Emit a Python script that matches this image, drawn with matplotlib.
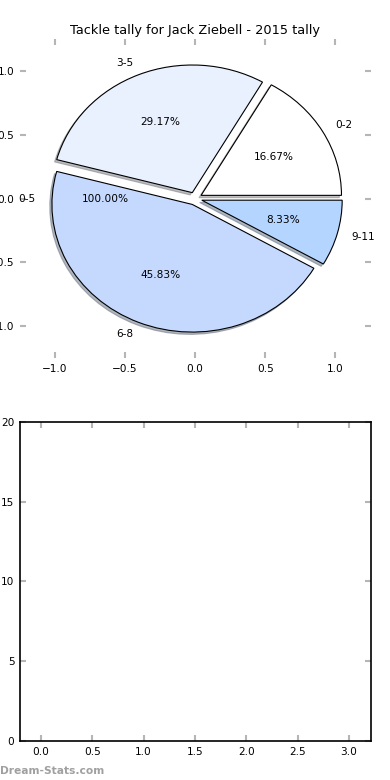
import matplotlib
matplotlib.use("Agg")
import matplotlib.pyplot as plt
import numpy as np

# tackle tally buckets and number of games in each
categories = ["0-2", "3-5", "6-8", "9-11"]
games = [4, 7, 11, 2]
colors = ["#ffffff", "#e9f0fe", "#c5d9fe", "#b4d5ff"]
explode = [0.05, 0.05, 0.05, 0.05]

# the stray one-slice pie drawn over the top
extra_labels = ["0-5"]
extra_games = [1]

x_ticks = np.arange(0, 3.01, 0.5)
y_ticks = np.arange(0, 21, 5)

TICK = "#b5b5b5"

plt.rcParams.update({
    "font.family": "DejaVu Sans",
    "font.size": 7.6,
    "xtick.direction": "in", "ytick.direction": "in",
    "xtick.color": TICK, "ytick.color": TICK,
    "xtick.labelcolor": "black", "ytick.labelcolor": "black",
    "xtick.major.size": 4, "ytick.major.size": 4,
    "xtick.major.width": 1.5, "ytick.major.width": 1.5,
    "xtick.major.pad": 4, "ytick.major.pad": 3.6,
    "xtick.top": True, "ytick.right": True,
})

fig, (ax1, ax2) = plt.subplots(2, 1, figsize=(3.9, 7.8), dpi=100)
fig.subplots_adjust(left=0.05, right=0.95, bottom=0.05, top=0.95, hspace=0.2)

ax1.pie(games, labels=categories, colors=colors, explode=explode,
        autopct="%1.2f%%",
        shadow={"ox": -0.011, "oy": -0.013, "shade": 0.5},
        wedgeprops=dict(edgecolor="black", linewidth=0.8),
        textprops=dict(fontsize=7.6))
ax1.pie(extra_games, labels=extra_labels, autopct="%1.2f%%", explode=[0.04],
        wedgeprops=dict(fill=False, linewidth=0),
        textprops=dict(fontsize=7.6))
ax1.set_aspect("auto")
ax1.set_xlim(-1.25, 1.25)
ax1.set_ylim(-1.25, 1.25)
ax1.set_xticks([-1.0, -0.5, 0.0, 0.5, 1.0])
ax1.set_yticks([-1.0, -0.5, 0.0, 0.5, 1.0])
ax1.set_frame_on(False)
ax1.set_title("Tackle tally for Jack Ziebell - 2015 tally", fontsize=9.3, pad=3.5)

ax2.set_xlim(-0.21, 3.21)
ax2.set_ylim(0, 20)
ax2.set_xticks(x_ticks)
ax2.set_yticks(y_ticks)
for s in ax2.spines.values():
    s.set_linewidth(1.2)

fig.text(0.0, 0.005, "Dream-Stats.com", fontsize=7.7, color="#a0a0a0",
         fontweight="bold", ha="left", va="bottom")

fig.savefig("out.png", dpi=100)
